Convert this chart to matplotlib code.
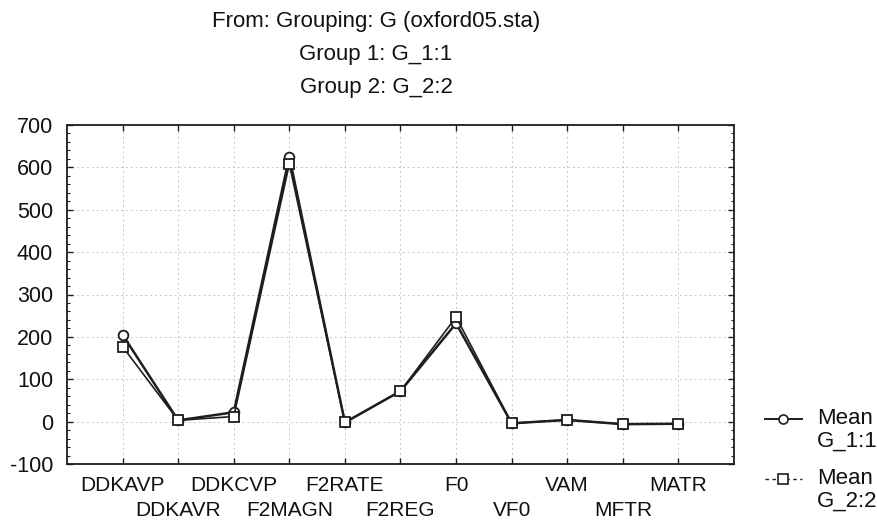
import matplotlib
matplotlib.use("Agg")
import matplotlib.pyplot as plt
from matplotlib.lines import Line2D
from matplotlib.ticker import MultipleLocator, FuncFormatter

plt.rcParams["font.family"] = ["Liberation Sans", "DejaVu Sans"]

VARIABLES = ["DDKAVP", "DDKAVR", "DDKCVP", "F2MAGN", "F2RATE", "F2REG",
             "F0", "VF0", "VAM", "MFTR", "MATR"]
MEAN_G1 = [205, 3, 22, 625, -2, 72, 232, -4, 4, -6, -5]
MEAN_G2 = [177, 3, 12, 608, -2, 72, 247, -4, 4, -6, -5]

TITLE_LINES = ["From: Grouping: G (oxford05.sta)",
               "Group 1: G_1:1",
               "Group 2: G_2:2"]
LEGEND_LABELS = [("Mean", "G_1:1"), ("Mean", "G_2:2")]

INK = "#1e1e1e"
TXT = "#111111"

fig = plt.figure(figsize=(8.78, 5.22), dpi=100)
ax = fig.add_axes([67 / 878, 1 - 464 / 522, (734 - 67) / 878, (464 - 125) / 522])

x = list(range(1, len(VARIABLES) + 1))
ax.plot(x, MEAN_G1, color=INK, linewidth=1.8, marker="o", markersize=7,
        markerfacecolor="white", markeredgecolor=INK, markeredgewidth=1.3, zorder=3)
ax.plot(x, MEAN_G2, color=INK, linewidth=1.2, marker="s", markersize=7,
        markerfacecolor="white", markeredgecolor=INK, markeredgewidth=1.3, zorder=4)

ax.set_xlim(0, len(VARIABLES) + 1)
ax.set_ylim(-100, 700)
ax.yaxis.set_major_locator(MultipleLocator(100))
ax.yaxis.set_minor_locator(MultipleLocator(20))
ax.yaxis.set_major_formatter(FuncFormatter(lambda v, p: f"{v:.0f}"))

# staggered labels: upper row on major ticks, lower row on minor ticks
ax.set_xticks(x[::2])
ax.set_xticklabels(VARIABLES[::2])
ax.set_xticks(x[1::2], minor=True)
ax.set_xticklabels(VARIABLES[1::2], minor=True)

ax.tick_params(which="both", direction="in", top=True, right=True, colors=INK,
               labelcolor=TXT)
ax.tick_params(axis="x", which="both", length=4, width=1, labelsize=15)
ax.tick_params(axis="x", which="major", pad=8.5)
ax.tick_params(axis="x", which="minor", pad=27)
ax.tick_params(axis="y", which="major", length=4, width=1, labelsize=15.5, pad=10)
ax.tick_params(axis="y", which="minor", length=2.5, width=0.8)
for s in ax.spines.values():
    s.set_linewidth(1.3)
    s.set_color(INK)
grid_kw = dict(linestyle=(0, (2, 3)), color="#c8c8c8", linewidth=0.7)
ax.xaxis.grid(True, which="both", **grid_kw)
ax.yaxis.grid(True, which="major", **grid_kw)
ax.set_axisbelow(True)

for i, line in enumerate(TITLE_LINES):
    fig.text(376 / 878, 1 - (21 + 33.5 * i) / 522, line, ha="center", va="center",
             fontsize=16, color=TXT)

# legend drawn by hand: sample on the first text line, label on two lines
samples = [
    dict(linestyle="-", linewidth=1.4, marker="o"),
    dict(linestyle=(0, (2.5, 2.5)), linewidth=1.0, marker="s"),
]
for i, ((top, bottom), style) in enumerate(zip(LEGEND_LABELS, samples)):
    y0 = 1 - (419 + 60 * i) / 522
    fig.add_artist(Line2D([765 / 878, 802 / 878], [y0, y0], transform=fig.transFigure,
                          color=INK, linestyle=style["linestyle"],
                          linewidth=style["linewidth"]))
    fig.add_artist(Line2D([783 / 878], [y0], transform=fig.transFigure, linestyle="none",
                          marker=style["marker"], markersize=6.5, markerfacecolor="white",
                          markeredgecolor=INK, markeredgewidth=1.2))
    fig.text(817 / 878, y0, top, ha="left", va="center", fontsize=16, color=TXT)
    fig.text(817 / 878, y0 - 22 / 522, bottom, ha="left", va="center", fontsize=16,
             color=TXT)

fig.savefig("out.png", dpi=100)
